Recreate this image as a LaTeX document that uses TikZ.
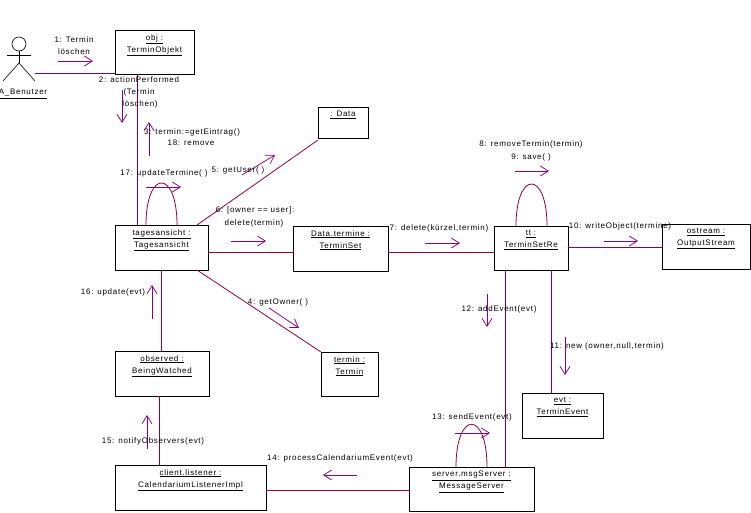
\documentclass[tikz,border=0pt]{standalone}
\usepackage{fontspec}
\setmainfont[LetterSpace=9]{Liberation Sans}
\usetikzlibrary{arrows.meta}
\definecolor{connColor}{RGB}{150,0,50}
\definecolor{msgColor}{RGB}{140,0,125}
\tikzset{
  objbox/.style={draw=black,line width=0.7pt,fill=white,rectangle,anchor=north west,inner sep=0pt,outer sep=0pt},
  objtext/.style={anchor=north,align=center,inner sep=0pt,yshift=-4pt,font=\fontsize{8}{12}\selectfont},
  msgtext/.style={inner sep=0pt,outer sep=0pt,anchor=center,font=\fontsize{8}{12}\selectfont},
  conn/.style={draw=connColor,line width=0.8pt},
  msgarrow/.style={draw=msgColor,line width=0.75pt,-{Straight Barb[length=8pt,width=10pt]}},
  stick/.style={draw=black,line width=0.6pt}
}
\begin{document}
\begin{tikzpicture}[x=1pt,y=-1pt]
\path[use as bounding box,fill=white] (0,0) rectangle (751,512);

% objects
\node[objbox,minimum width=79pt,minimum height=44pt,label={[objtext]north:\underline{obj :}\\\underline{TerminObjekt}}] (obj) at (115,30) {};
\node[objbox,minimum width=50pt,minimum height=31pt,label={[objtext]north:\underline{: Data}}] (data) at (318,107) {};
\node[objbox,minimum width=93pt,minimum height=45pt,label={[objtext]north:\underline{tagesansicht :}\\\underline{Tagesansicht}}] (tages) at (115,225) {};
\node[objbox,minimum width=95pt,minimum height=45pt,label={[objtext]north:\underline{Data.termine :}\\\underline{TerminSet}}] (termine) at (293,226) {};
\node[objbox,minimum width=74pt,minimum height=44pt,label={[objtext]north:\underline{tt :}\\\underline{TerminSetRe}}] (tt) at (494,226) {};
\node[objbox,minimum width=88pt,minimum height=45pt,label={[objtext]north:\underline{ostream :}\\\underline{OutputStream}}] (ostream) at (662,224) {};
\node[objbox,minimum width=94pt,minimum height=45pt,label={[objtext]north:\underline{observed :}\\\underline{BeingWatched}}] (observed) at (115,351) {};
\node[objbox,minimum width=57pt,minimum height=44pt,label={[objtext]north:\underline{termin :}\\\underline{Termin}}] (termin) at (321,352) {};
\node[objbox,minimum width=81pt,minimum height=45pt,label={[objtext]north:\underline{evt :}\\\underline{TerminEvent}}] (evt) at (522,393) {};
\node[objbox,minimum width=151pt,minimum height=45pt,label={[objtext]north:\underline{client.listener :}\\\underline{CalendariumListenerImpl}}] (client) at (115,465) {};
\node[objbox,minimum width=125pt,minimum height=44pt,label={[objtext]north:\underline{server.msgServer :}\\\underline{MessageServer}}] (server) at (409,467) {};

% actor
\node[circle,stick,minimum size=14pt,inner sep=0pt,outer sep=0pt] (head) at (19,44) {};
\coordinate (hip) at (19,63);
\coordinate (armL) at (7,55);
\coordinate (armR) at (31,55);
\coordinate (footL) at (3,81);
\coordinate (footR) at (35,81);
\draw[stick] (head.south) -- (hip);
\draw[stick] (armL) -- (armR);
\draw[stick] (footL) -- (hip) -- (footR);
\node[msgtext] (actorname) at (23,94) {\underline{A\_Benutzer}};

% helper positions of the straight links
\coordinate (actorEnd) at (35,73);
\coordinate (objCol) at (137,0);
\coordinate (tagesRow) at (0,252);
\coordinate (ttRow) at (0,247);
\coordinate (obsCol) at (161,0);
\coordinate (clientCol) at (159,0);
\coordinate (serverCol) at (505,0);
\coordinate (evtCol) at (551,0);
\coordinate (clientRow) at (0,490);
\coordinate (loopA) at (146,0);
\coordinate (loopB) at (177,0);
\coordinate (loopC) at (516,0);
\coordinate (loopD) at (547,0);
\coordinate (loopE) at (456,0);
\coordinate (loopF) at (487,0);

% links
\draw[conn] (actorEnd) -- (obj.west |- actorEnd);
\draw[conn] (obj.south -| objCol) -- (tages.north -| objCol);
\draw[conn] ([xshift=-11pt]tages.north east) -- ([yshift=-2pt]data.south west);
\draw[conn] (tages.east |- tagesRow) -- (termine.west |- tagesRow);
\draw[conn] (termine.east |- tagesRow) -- (tt.west |- tagesRow);
\draw[conn] (tt.east |- ttRow) -- (ostream.west |- ttRow);
\draw[conn] (tt.south -| serverCol) -- (server.north -| serverCol);
\draw[conn] (tt.south -| evtCol) -- (evt.north -| evtCol);
\draw[conn] (tages.south -| obsCol) -- (observed.north -| obsCol);
\draw[conn] ([xshift=-11pt]tages.south east) -- (termin.north west);
\draw[conn] (observed.south -| clientCol) -- (client.north -| clientCol);
\draw[conn] (client.east |- clientRow) -- (server.west |- clientRow);

% self links
\draw[conn] (tages.north -| loopA) .. controls +(0,-56) and +(0,-56) .. (tages.north -| loopB);
\draw[conn] (tt.north -| loopC) .. controls +(0,-56) and +(0,-56) .. (tt.north -| loopD);
\draw[conn] (server.north -| loopE) .. controls +(0,-57) and +(0,-57) .. (server.north -| loopF);

% message arrows
\coordinate (m1s) at (58,61); \coordinate (m1e) at (93,61); \draw[msgarrow] (m1s) -- (m1e);
\coordinate (m2s) at (122,90); \coordinate (m2e) at (122,123); \draw[msgarrow] (m2s) -- (m2e);
\coordinate (m3s) at (149,156); \coordinate (m3e) at (149,122); \draw[msgarrow] (m3s) -- (m3e);
\coordinate (m4s) at (269,308); \coordinate (m4e) at (299,328); \draw[msgarrow] (m4s) -- (m4e);
\coordinate (m5s) at (242,175); \coordinate (m5e) at (275,155); \draw[msgarrow] (m5s) -- (m5e);
\coordinate (m6s) at (231,241); \coordinate (m6e) at (266,241); \draw[msgarrow] (m6s) -- (m6e);
\coordinate (m7s) at (425,243); \coordinate (m7e) at (460,243); \draw[msgarrow] (m7s) -- (m7e);
\coordinate (m8s) at (515,171); \coordinate (m8e) at (549,171); \draw[msgarrow] (m8s) -- (m8e);
\coordinate (m10s) at (604,241); \coordinate (m10e) at (638,241); \draw[msgarrow] (m10s) -- (m10e);
\coordinate (m11s) at (565,337); \coordinate (m11e) at (565,375); \draw[msgarrow] (m11s) -- (m11e);
\coordinate (m12s) at (487,294); \coordinate (m12e) at (487,327); \draw[msgarrow] (m12s) -- (m12e);
\coordinate (m13s) at (455,433); \coordinate (m13e) at (490,433); \draw[msgarrow] (m13s) -- (m13e);
\coordinate (m14s) at (357,475); \coordinate (m14e) at (323,475); \draw[msgarrow] (m14s) -- (m14e);
\coordinate (m15s) at (147,449); \coordinate (m15e) at (147,415); \draw[msgarrow] (m15s) -- (m15e);
\coordinate (m16s) at (152,319); \coordinate (m16e) at (152,285); \draw[msgarrow] (m16s) -- (m16e);
\coordinate (m17s) at (146,187); \coordinate (m17e) at (181,187); \draw[msgarrow] (m17s) -- (m17e);

% message labels
\node[msgtext] (t1a) at (74,40) {1: Termin};
\node[msgtext] (t1b) at (74,52) {löschen};
\node[msgtext] (t2a) at (139,80) {2: actionPerformed};
\node[msgtext] (t2b) at (139,92) {(Termin};
\node[msgtext] (t2c) at (140,104) {löschen)};
\node[msgtext] (t3) at (192,132) {3: termin:=getEintrag()};
\node[msgtext] (t18) at (191,143) {18: remove};
\node[msgtext] (t17) at (164,173) {17: updateTermine( )};
\node[msgtext] (t5) at (238,170) {5: getUser( )};
\node[msgtext] (t6a) at (255,210) {6: [owner == user]:};
\node[msgtext] (t6b) at (254,223) {delete(termin)};
\node[msgtext] (t7) at (439,228) {7: delete(kürzel,termin)};
\node[msgtext] (t8) at (531,144) {8: removeTermin(termin)};
\node[msgtext] (t9) at (531,157) {9: save( )};
\node[msgtext] (t10) at (620,226) {10: writeObject(termine)};
\node[msgtext] (t12) at (499,309) {12: addEvent(evt)};
\node[msgtext] (t11) at (607,346) {11: new (owner,null,termin)};
\node[msgtext] (t13) at (472,417) {13: sendEvent(evt)};
\node[msgtext] (t14) at (340,458) {14: processCalendariumEvent(evt)};
\node[msgtext] (t15) at (153,441) {15: notifyObservers(evt)};
\node[msgtext] (t16) at (113,292) {16: update(evt)};
\node[msgtext] (t4) at (278,302) {4: getOwner( )};
\end{tikzpicture}
\end{document}
